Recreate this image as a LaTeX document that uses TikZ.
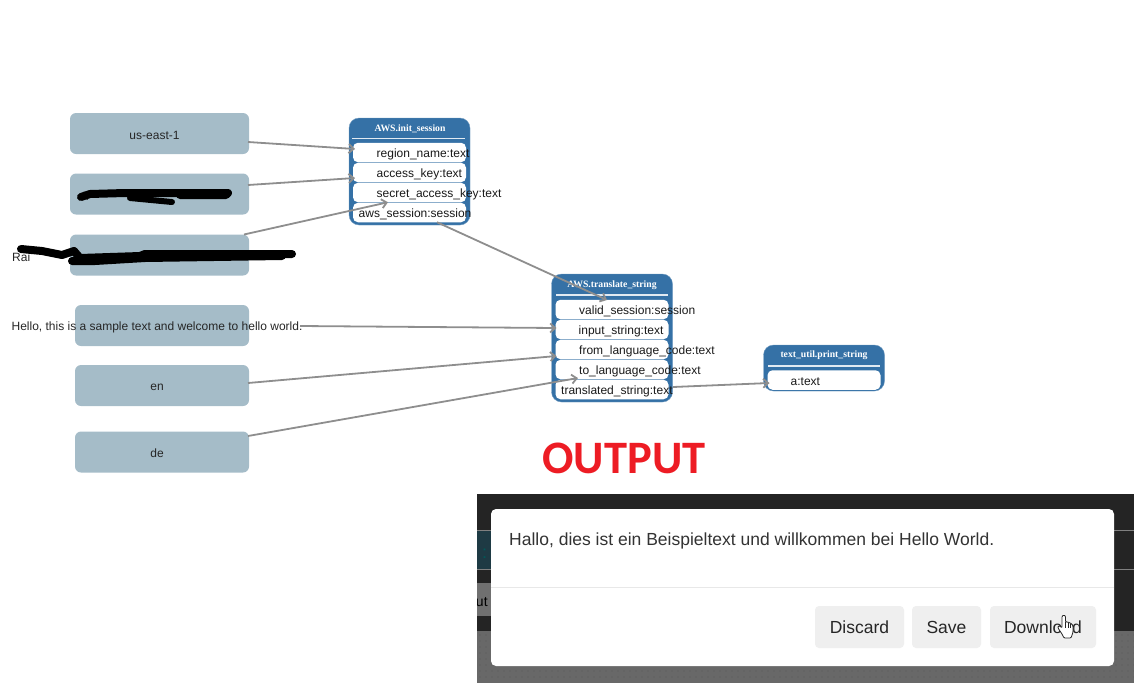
\documentclass[tikz,border=0pt]{standalone}
\usepackage{fontspec}
\setmainfont{Liberation Sans}
\newfontfamily\titlefont{Liberation Serif}
\newfontfamily\bannerfont{Carlito}
\usetikzlibrary{arrows.meta}
\definecolor{inputfill}{HTML}{A5BCC8}
\definecolor{blockfill}{HTML}{3571A6}
\definecolor{flowgray}{HTML}{8E8E8E}
\definecolor{bannerred}{HTML}{ED1C24}
\definecolor{paneldark}{HTML}{242424}
\definecolor{panelteal}{HTML}{1E3A44}
\definecolor{panelstrip}{HTML}{707070}
\definecolor{paneldots}{HTML}{686868}
\definecolor{buttonfill}{HTML}{EFEFEF}
\tikzset{
  inputbox/.style={rectangle,rounded corners=6pt,fill=inputfill,minimum height=41pt,
    minimum width=#1,inner sep=0pt,outer sep=0pt},
  inputbox/.default=179pt,
  inputlabel/.style={font=\fontsize{12}{14}\selectfont,text=black!85,inner sep=0pt},
  funcblock/.style={rectangle,rounded corners=10pt,fill=blockfill,draw=blockfill!70!white,
    minimum width=121pt,inner sep=0pt,outer sep=0pt},
  functitle/.style={font=\titlefont\bfseries\fontsize{9.7}{11}\selectfont,text=white,inner sep=0pt},
  titlerule/.style={white!85!blockfill,line width=1.2pt},
  slotbox/.style={rectangle,rounded corners=5pt,fill=white,minimum width=113pt,
    minimum height=19.5pt,inner sep=0pt,outer sep=0pt},
  slotlabel/.style={font=\fontsize{12}{14}\selectfont,text=black!90,anchor=west,inner sep=0pt},
  flowarc/.style={-{Straight Barb[length=5pt,width=9pt]},flowgray,line width=1.8pt},
  scribble/.style={black,line width=8pt,line cap=round,line join=round},
  modalbutton/.style={rectangle,rounded corners=4pt,fill=buttonfill,minimum height=42pt,
    inner sep=0pt,outer sep=0pt,font=\fontsize{17.5}{22}\selectfont,text=black!85}
}
\begin{document}
\begin{tikzpicture}[x=1pt,y=-1pt]
  \useasboundingbox (0,0) rectangle (1134,683);

  \node[inputbox] (regionbox) at (159.5,133.5) {};
  \node[inputbox] (accessbox) at (159.5,194) {};
  \node[inputbox] (secretbox) at (159.5,255) {};
  \node[inputbox=174pt] (textbox) at (162,325.5) {};
  \node[inputbox=174pt] (frombox) at (162,385.5) {};
  \node[inputbox=174pt] (tobox) at (162,452) {};

  \node[funcblock,minimum height=107pt] (initblock) at (409.5,171.5) {};
  \node[funcblock,minimum height=128pt] (translateblock) at (612,338) {};
  \node[funcblock,minimum height=46pt] (printblock) at (824,368) {};

  \node[functitle] (inittitle) at (410,128.5) {AWS.init\_session};
  \node[functitle] (translatetitle) at (612,285.5) {AWS.translate\_string};
  \node[functitle] (printtitle) at (824,355.5) {text\_util.print\_string};
  \draw[titlerule] (352,138.5) -- (465,138.5);
  \draw[titlerule] (556,295) -- (668,295);
  \draw[titlerule] (768,366) -- (880,366);

  \node[slotbox] (regionslot) at (409.5,152.5) {};
  \node[slotbox] (accessslot) at (409.5,172.5) {};
  \node[slotbox] (secretslot) at (409.5,192.5) {};
  \node[slotbox] (sessionslot) at (409.5,212.5) {};
  \node[slotbox] (validslot) at (612,309.5) {};
  \node[slotbox] (inputslot) at (612,329.5) {};
  \node[slotbox] (fromslot) at (612,349.5) {};
  \node[slotbox] (toslot) at (612,369.5) {};
  \node[slotbox] (translatedslot) at (612,389.5) {};
  \node[slotbox] (aslot) at (824,380) {};

  \node[inputlabel] (regiontext) at (154.5,135) {us-east-1};
  \node[inputlabel,anchor=west] (accesstext) at (80,196) {A};
  \node[inputlabel,anchor=west] (secrettext) at (12,257) {Rai};
  \node[inputlabel] (sampletext) at (157,327.5) {Hello, this is a sample text and welcome to hello world.};
  \node[inputlabel] (fromtext) at (157,387) {en};
  \node[inputlabel] (totext) at (157,453) {de};

  \node[slotlabel] (regionlabel) at (376.5,154.5) {region\_name:text};
  \node[slotlabel] (accesslabel) at (376.5,174.5) {access\_key:text};
  \node[slotlabel] (secretlabel) at (376.5,194.5) {secret\_access\_key:text};
  \node[slotlabel] (sessionlabel) at (358.5,214.5) {aws\_session:session};
  \node[slotlabel] (validlabel) at (579,311.5) {valid\_session:session};
  \node[slotlabel] (inputlabel) at (578.5,331.5) {input\_string:text};
  \node[slotlabel] (fromlabel) at (579,351.5) {from\_language\_code:text};
  \node[slotlabel] (tolabel) at (579,371.5) {to\_language\_code:text};
  \node[slotlabel] (translatedlabel) at (561,391.5) {translated\_string:text};
  \node[slotlabel] (alabel) at (790.5,381.5) {a:text};

  \draw[flowarc] ([xshift=-1pt,yshift=-8.5pt]regionbox.east) -- ([xshift=2pt,yshift=3.5pt]regionslot.west);
  \draw[flowarc] ([xshift=-1pt,yshift=9pt]accessbox.east) -- ([xshift=2pt,yshift=-5.5pt]accessslot.west);
  \draw[flowarc] ([xshift=-5pt]secretbox.north east) -- ([xshift=-21.5pt]secretslot.south);
  \draw[flowarc] ([xshift=27.5pt]sessionslot.south) -- ([xshift=-5pt,yshift=9.5pt]validslot.center);
  \draw[flowarc] ([xshift=51pt,yshift=-.5pt]textbox.east) -- ([xshift=1pt,yshift=1.5pt]inputslot.west);
  \draw[flowarc] ([xshift=-1pt,yshift=2.5pt]frombox.east) -- ([xshift=1pt,yshift=-6.5pt]fromslot.west);
  \draw[flowarc] ([xshift=-1pt,yshift=16pt]tobox.east) -- ([xshift=-34pt,yshift=-8.5pt]toslot.center);
  \draw[flowarc] ([xshift=4.5pt,yshift=2.5pt]translatedslot.east) -- ([xshift=2pt,yshift=-3pt]aslot.west);

  \draw[scribble] (81,197) -- (90,194) -- (125,193) -- (228,193) -- (226,195) -- (180,195);
  \draw[scribble,line width=6pt] (130,198) -- (172,202);
  \draw[scribble] (21,249) -- (42,251) -- (62,255) -- (74,251) -- (80,258) -- (140,256) -- (145,254) -- (292,254);
  \draw[scribble] (72,261) -- (95,261) -- (145,258) -- (282,256);

  \node[font=\bannerfont\bfseries\fontsize{46.5}{50}\selectfont,text=bannerred,inner sep=0pt] (banner) at (624,458) {OUTPUT};

  \fill[paneldark] (477,494) rectangle (1134,631);
  \fill[panelteal] (477,530) rectangle (491,570);
  \fill[panelstrip] (477,583) rectangle (491,616);
  \draw[black!50,line width=.8pt] (477,530) -- (1134,530) (477,569.5) -- (1134,569.5);
  \begin{scope}
    \clip (477,494) rectangle (491,631);
    \node[font=\fontsize{18}{20}\selectfont,text=teal!70!black,inner sep=0pt,anchor=west] (tealtext) at (473,551.5) {l :};
    \node[font=\fontsize{14}{16}\selectfont,text=black,inner sep=0pt,anchor=west] (striptext) at (468,602) {out};
  \end{scope}
  \fill[paneldots] (477,631) rectangle (1134,683);
  \foreach \dotx in {480,486,...,1134}
    \foreach \doty in {635,641,...,677}
      \fill[black!66] (\dotx,\doty) circle (.7pt);

  \node[rectangle,rounded corners=5pt,fill=white,minimum width=623pt,minimum height=157pt,
    inner sep=0pt,outer sep=0pt] (modal) at (802.5,587.5) {};
  \draw[black!9,line width=1pt] (modal.west) -- (modal.east);
  \node[font=\fontsize{17.5}{20}\selectfont,text=black!80,inner sep=0pt,anchor=west] (modaltext) at (509,540.5) {Hallo, dies ist ein Beispieltext und willkommen bei Hello World.};

  \node[modalbutton,minimum width=89pt] (discardbutton) at (859.5,627) {Discard};
  \node[modalbutton,minimum width=69pt] (savebutton) at (946.5,627) {Save};
  \node[modalbutton,minimum width=106pt] (downloadbutton) at (1043,627) {Download};

  \draw[fill=white,draw=black!85,line width=.8pt,line join=round,rounded corners=1pt]
    (1062,616) -- (1064,615) -- (1065.5,616) -- (1065.5,622) -- (1068,622) -- (1070,623) -- (1072,624)
    -- (1073,626) -- (1073,632) -- (1071,638) -- (1064,638) -- (1062,634) -- (1058,628) -- (1058,626)
    -- (1060,626) -- (1062,628) -- cycle;
  \draw[black!85,line width=.5pt] (1065.5,622) -- (1065.5,628) (1068,622.5) -- (1068,628) (1070.5,623.5) -- (1070.5,628);
\end{tikzpicture}
\end{document}
